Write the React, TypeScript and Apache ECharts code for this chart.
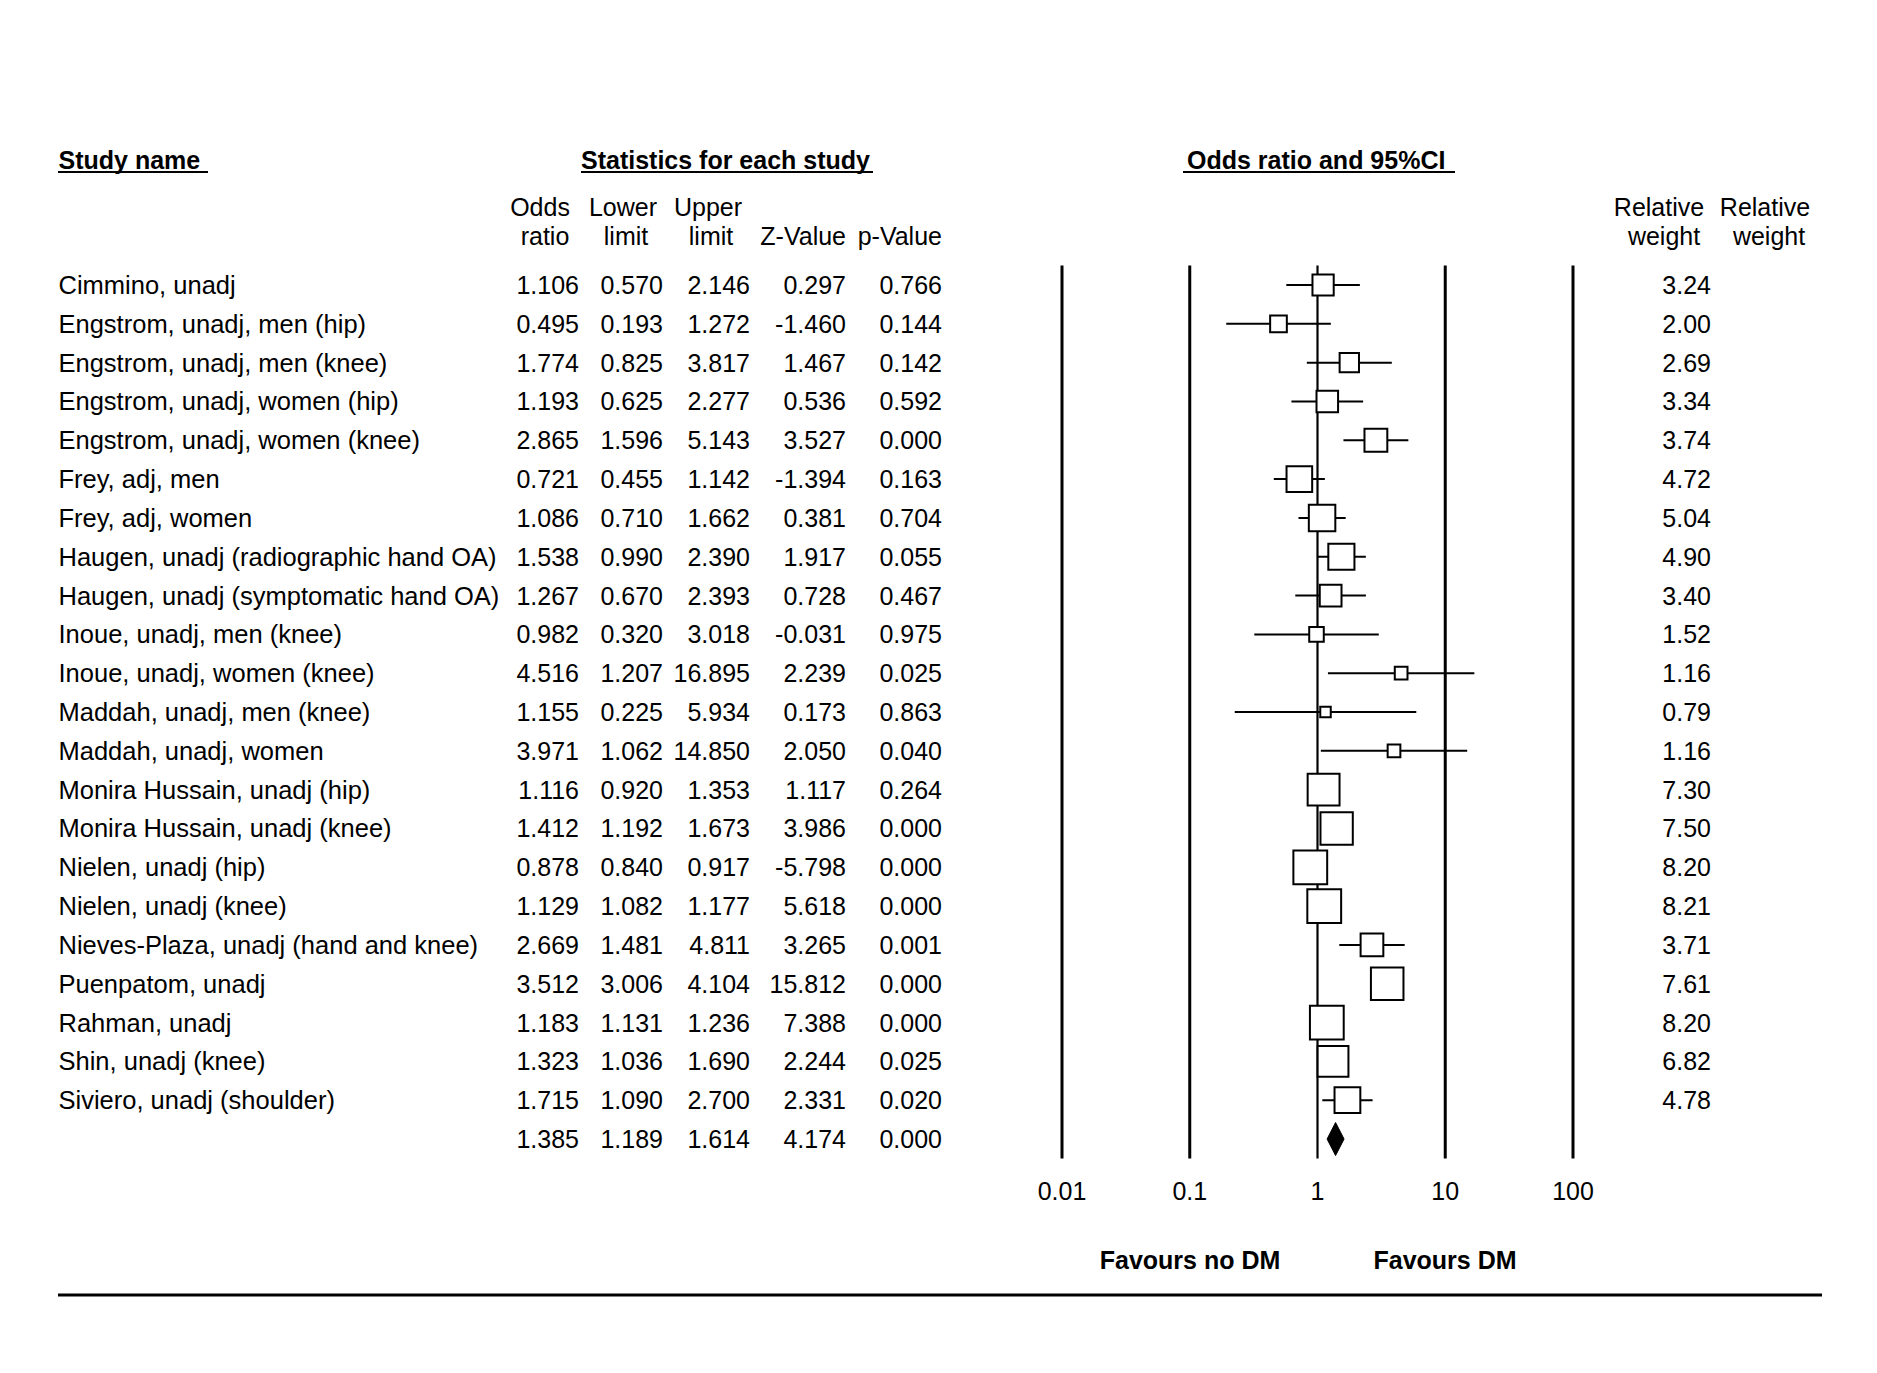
import React, { useEffect, useRef } from "react";
import * as echarts from "echarts";

const W = 1877;
const H = 1373;

const studyNames = [
  "Cimmino, unadj",
  "Engstrom, unadj, men (hip)",
  "Engstrom, unadj, men (knee)",
  "Engstrom, unadj, women (hip)",
  "Engstrom, unadj, women (knee)",
  "Frey, adj, men",
  "Frey, adj, women",
  "Haugen, unadj (radiographic hand OA)",
  "Haugen, unadj (symptomatic hand OA)",
  "Inoue, unadj, men (knee)",
  "Inoue, unadj, women (knee)",
  "Maddah, unadj, men (knee)",
  "Maddah, unadj, women",
  "Monira Hussain, unadj (hip)",
  "Monira Hussain, unadj (knee)",
  "Nielen, unadj (hip)",
  "Nielen, unadj (knee)",
  "Nieves-Plaza, unadj (hand and knee)",
  "Puenpatom, unadj",
  "Rahman, unadj",
  "Shin, unadj (knee)",
  "Siviero, unadj (shoulder)",
];
const oddsRatio = [1.106, 0.495, 1.774, 1.193, 2.865, 0.721, 1.086, 1.538, 1.267, 0.982, 4.516, 1.155, 3.971, 1.116, 1.412, 0.878, 1.129, 2.669, 3.512, 1.183, 1.323, 1.715];
const lowerLimit = [0.57, 0.193, 0.825, 0.625, 1.596, 0.455, 0.71, 0.99, 0.67, 0.32, 1.207, 0.225, 1.062, 0.92, 1.192, 0.84, 1.082, 1.481, 3.006, 1.131, 1.036, 1.09];
const upperLimit = [2.146, 1.272, 3.817, 2.277, 5.143, 1.142, 1.662, 2.39, 2.393, 3.018, 16.895, 5.934, 14.85, 1.353, 1.673, 0.917, 1.177, 4.811, 4.104, 1.236, 1.69, 2.7];
const zValue = [0.297, -1.46, 1.467, 0.536, 3.527, -1.394, 0.381, 1.917, 0.728, -0.031, 2.239, 0.173, 2.05, 1.117, 3.986, -5.798, 5.618, 3.265, 15.812, 7.388, 2.244, 2.331];
const pValue = [0.766, 0.144, 0.142, 0.592, 0.0, 0.163, 0.704, 0.055, 0.467, 0.975, 0.025, 0.863, 0.04, 0.264, 0.0, 0.0, 0.0, 0.001, 0.0, 0.0, 0.025, 0.02];
const relWeight = [3.24, 2.0, 2.69, 3.34, 3.74, 4.72, 5.04, 4.9, 3.4, 1.52, 1.16, 0.79, 1.16, 7.3, 7.5, 8.2, 8.21, 3.71, 7.61, 8.2, 6.82, 4.78];

const summaryOR = 1.385;
const summaryLower = 1.189;
const summaryUpper = 1.614;
const summaryZ = 4.174;
const summaryP = 0.0;

const refValues = [0.01, 0.1, 1, 10, 100];
const tickLabels = ["0.01", "0.1", "1", "10", "100"];

// layout
const FONT = "Liberation Sans";
const FS = 25;
const ROW0 = 285;
const STEP = 38.82;
const NROWS = studyNames.length + 1;
const GRID_TOP = ROW0 - STEP / 2;
const GRID_H = STEP * NROWS;
const FOREST_LEFT = 1062;
const FOREST_RIGHT = 1573;

export default function App() {
  const ref = useRef<HTMLDivElement>(null);

  useEffect(() => {
    if (!ref.current) return;
    const chart = echarts.init(ref.current, null, { renderer: "svg", width: W, height: H });

    const n = studyNames.length;
    const fmt3 = (v: number) => v.toFixed(3);

    const columns: { x: number; align: string; size: number; texts: string[] }[] = [
      { x: 58.5, align: "left", size: 25.5, texts: studyNames },
      { x: 579, align: "right", size: FS, texts: [...oddsRatio, summaryOR].map(fmt3) },
      { x: 663, align: "right", size: FS, texts: [...lowerLimit, summaryLower].map(fmt3) },
      { x: 750, align: "right", size: FS, texts: [...upperLimit, summaryUpper].map(fmt3) },
      { x: 846, align: "right", size: FS, texts: [...zValue, summaryZ].map(fmt3) },
      { x: 942, align: "right", size: FS, texts: [...pValue, summaryP].map(fmt3) },
      { x: 1711, align: "right", size: FS, texts: relWeight.map((v) => v.toFixed(2)) },
    ];

    const textSeries = columns.map((col) => ({
      type: "custom",
      coordinateSystem: "cartesian2d",
      xAxisIndex: 1,
      yAxisIndex: 1,
      silent: true,
      z: 5,
      data: col.texts.map((_, i) => [col.x, i]),
      renderItem: (params: any, api: any) => {
        const c = api.coord([api.value(0), api.value(1)]);
        return {
          type: "text",
          x: c[0],
          y: c[1],
          style: {
            text: col.texts[params.dataIndex],
            align: col.align,
            textAlign: col.align,
            verticalAlign: "middle",
            textVerticalAlign: "middle",
            fontFamily: FONT,
            fontSize: col.size,
            fill: "#000",
          },
        };
      },
    }));

    const studyData = oddsRatio.map((v, i) => [v, i, lowerLimit[i], upperLimit[i], relWeight[i]]);

    const headerText = (text: string, x: number, y: number, bold = false, align = "center") => ({
      type: "text",
      x,
      y,
      silent: true,
      style: {
        text,
        fontFamily: FONT,
        fontSize: FS,
        fontWeight: bold ? "bold" : "normal",
        fill: "#000",
        align,
        textAlign: align,
        verticalAlign: "middle",
        textVerticalAlign: "middle",
      },
    });
    const hline = (x1: number, x2: number, y: number, w: number) => ({
      type: "line",
      silent: true,
      shape: { x1, y1: y, x2, y2: y },
      style: { stroke: "#000", lineWidth: w },
    });

    const option: any = {
      animation: false,
      backgroundColor: "#fff",
      grid: [
        {
          left: FOREST_LEFT,
          width: FOREST_RIGHT - FOREST_LEFT,
          top: GRID_TOP,
          height: GRID_H,
          outerBoundsMode: "none",
        },
        { left: 0, width: W, top: GRID_TOP, height: GRID_H, outerBoundsMode: "none" },
      ],
      xAxis: [
        {
          gridIndex: 0,
          type: "log",
          logBase: 10,
          min: 0.01,
          max: 100,
          axisLine: { show: false },
          axisTick: { show: false },
          splitLine: { show: false },
          axisLabel: {
            show: true,
            margin: 20,
            fontFamily: FONT,
            fontSize: FS,
            color: "#000",
            formatter: (_v: number, idx: number) => tickLabels[idx] ?? "",
          },
        },
        { gridIndex: 1, type: "value", min: 0, max: W, show: false },
      ],
      yAxis: [
        { gridIndex: 0, type: "value", min: -0.5, max: NROWS - 0.5, inverse: true, show: false },
        { gridIndex: 1, type: "value", min: -0.5, max: NROWS - 0.5, inverse: true, show: false },
      ],
      graphic: [
        headerText("Study name", 58.5, 160, true, "left"),
        hline(58, 208, 172, 2),
        headerText("Statistics for each study", 581, 160, true, "left"),
        hline(581, 873, 172, 2),
        headerText("Odds ratio and 95%CI", 1187, 160, true, "left"),
        hline(1183, 1455, 172, 2),
        headerText("Odds", 540, 207),
        headerText("ratio", 545, 236),
        headerText("Lower", 623, 207),
        headerText("limit", 626, 236),
        headerText("Upper", 708, 207),
        headerText("limit", 711, 236),
        headerText("Z-Value", 846, 236, false, "right"),
        headerText("p-Value", 942, 236, false, "right"),
        headerText("Relative", 1659, 207),
        headerText("weight", 1664, 236),
        headerText("Relative", 1765, 207),
        headerText("weight", 1769, 236),
        headerText("Favours no DM", 1190, 1260, true),
        headerText("Favours DM", 1445, 1260, true),
        hline(58, 1822, 1295, 3),
      ],
      series: [
        {
          type: "custom",
          name: "refLines",
          coordinateSystem: "cartesian2d",
          xAxisIndex: 0,
          yAxisIndex: 0,
          silent: true,
          z: 1,
          clip: false,
          data: refValues.map((v) => [v, 0]),
          renderItem: (_p: any, api: any) => {
            const v = api.value(0);
            const a = api.coord([v, -0.5]);
            const b = api.coord([v, NROWS - 0.5]);
            return {
              type: "line",
              shape: { x1: a[0], y1: a[1], x2: b[0], y2: b[1] },
              style: { stroke: "#000", lineWidth: v === 1 ? 2.2 : 3 },
            };
          },
        },
        {
          type: "custom",
          name: "studies",
          coordinateSystem: "cartesian2d",
          xAxisIndex: 0,
          yAxisIndex: 0,
          silent: true,
          z: 3,
          clip: false,
          data: studyData,
          renderItem: (_p: any, api: any) => {
            const or = api.value(0);
            const row = api.value(1);
            const lo = api.value(2);
            const hi = api.value(3);
            const w = api.value(4);
            const c = api.coord([or, row]);
            const l = api.coord([lo, row]);
            const h = api.coord([hi, row]);
            const s = 11.8 * Math.sqrt(w);
            return {
              type: "group",
              children: [
                {
                  type: "line",
                  shape: { x1: l[0], y1: l[1], x2: h[0], y2: h[1] },
                  style: { stroke: "#000", lineWidth: 2 },
                },
                {
                  type: "rect",
                  shape: { x: c[0] - s / 2, y: c[1] - s / 2, width: s, height: s },
                  style: { fill: "#fff", stroke: "#000", lineWidth: 2 },
                },
              ],
            };
          },
        },
        {
          type: "custom",
          name: "summary",
          coordinateSystem: "cartesian2d",
          xAxisIndex: 0,
          yAxisIndex: 0,
          silent: true,
          z: 4,
          clip: false,
          data: [[summaryOR, n, summaryLower, summaryUpper]],
          renderItem: (_p: any, api: any) => {
            const row = api.value(1);
            const c = api.coord([api.value(0), row]);
            const l = api.coord([api.value(2), row]);
            const h = api.coord([api.value(3), row]);
            const hh = 16.5;
            return {
              type: "polygon",
              shape: {
                points: [
                  [l[0], c[1]],
                  [c[0], c[1] - hh],
                  [h[0], c[1]],
                  [c[0], c[1] + hh],
                ],
              },
              style: { fill: "#000", stroke: "#000", lineWidth: 1 },
            };
          },
        },
        ...textSeries,
      ],
    };

    chart.setOption(option);
    return () => chart.dispose();
  }, []);

  return (
    <div
      ref={ref}
      style={{ position: "absolute", left: 0, top: 0, width: W, height: H, background: "#fff" }}
    />
  );
}
